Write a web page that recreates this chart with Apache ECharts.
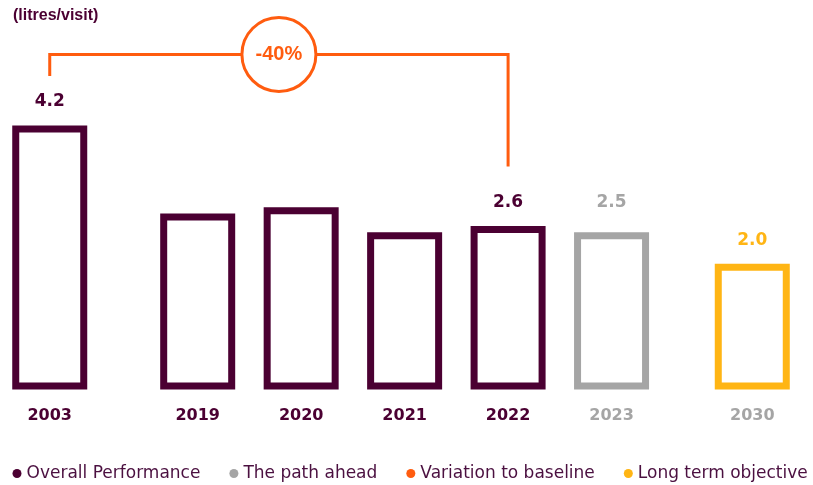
<!DOCTYPE html>
<html>
<head>
<meta charset="utf-8">
<script src="https://cdn.jsdelivr.net/npm/echarts@6/dist/echarts.min.js"></script>
<style>
    html, body { margin: 0; padding: 0; background: #fff; }
    #chart { width: 813px; height: 485px; }
</style>
</head>
<body>
<div id="chart"></div>
<script>
    // data
    var years = ['2003', '2019', '2020', '2021', '2022', '2023', '2030'];
    var values = [4.2, 2.8, 2.9, 2.5, 2.6, 2.5, 2.0];
    var groups = ['overall', 'overall', 'overall', 'overall', 'overall', 'path', 'objective'];
    var labelled = ['2003', '2022', '2023', '2030'];
    var variationText = '-40%';
    var unitText = '(litres/visit)';

    var PURPLE = '#4b0032';
    var GREY = '#a5a5a5';
    var ORANGE = '#ff5c0f';
    var YELLOW = '#ffb514';

    // layout: where each year sits along x, in bar steps (gaps before 2019 and 2030 are wider)
    var slotOf = [0, 1.43, 2.43, 3.43, 4.43, 5.43, 6.79];
    var labelDistance = { '2003': 15, '2022': 15, '2023': 21, '2030': 15 };

    var seriesDefs = [
        { key: 'overall', name: 'Overall Performance', color: PURPLE },
        { key: 'path', name: 'The path ahead', color: GREY },
        { key: 'objective', name: 'Long term objective', color: YELLOW }
    ];

    function yearAt(v) {
        for (var k = 0; k < slotOf.length; k++) {
            if (Math.abs(slotOf[k] - v) < 1e-6) return k;
        }
        return -1;
    }

    function barSeries(def) {
        var data = years.map(function (y, k) {
            if (groups[k] !== def.key) return [slotOf[k], null];
            return {
                value: [slotOf[k], values[k]],
                label: { show: labelled.indexOf(y) >= 0, distance: labelDistance[y] || 15 }
            };
        });
        return {
            name: def.name,
            type: 'bar',
            stack: 'bars',   // one stack so every series keeps the full bar width
            barWidth: 75,
            data: data,
            itemStyle: { color: '#fff', borderColor: def.color, borderWidth: 7 },
            label: {
                position: 'top',
                color: def.color,
                fontFamily: 'DejaVu Sans',
                fontWeight: 'bold',
                fontSize: 17,
                formatter: function (p) { return p.value[1].toFixed(1); }
            },
            emphasis: { disabled: true },
            silent: true
        };
    }

    var series = seriesDefs.map(barSeries);
    // only here so the legend gets its orange entry; the bracket is drawn below
    series.push({ name: 'Variation to baseline', type: 'line', data: [], itemStyle: { color: ORANGE } });

    var chart = echarts.init(document.getElementById('chart'));
    chart.setOption({
        animation: false,
        title: {
            text: unitText,
            left: 8,
            top: 3,
            textStyle: { color: PURPLE, fontFamily: 'Liberation Sans', fontWeight: 'bold', fontSize: 16 }
        },
        legend: {
            left: 7.5,
            top: 460,
            width: 805,
            icon: 'circle',
            itemWidth: 9,
            itemHeight: 9,
            itemGap: 29,
            textStyle: { color: '#4b1040', fontFamily: 'DejaVu Sans', fontSize: 17 },
            data: [
                { name: 'Overall Performance', itemStyle: { color: PURPLE, borderWidth: 0 } },
                { name: 'The path ahead', itemStyle: { color: GREY, borderWidth: 0 } },
                { name: 'Variation to baseline', itemStyle: { color: ORANGE, borderWidth: 0 } },
                { name: 'Long term objective', itemStyle: { color: YELLOW, borderWidth: 0 } }
            ]
        },
        grid: { left: 18.7, right: 39, top: 12.3, bottom: 95.5, containLabel: false },
        xAxis: {
            type: 'value',
            min: -0.3,
            max: 7,
            splitLine: { show: false },
            axisLine: { show: false },
            axisTick: { show: false },
            axisLabel: {
                customValues: slotOf,
                margin: 18,
                fontFamily: 'DejaVu Sans',
                fontWeight: 'bold',
                fontSize: 16,
                formatter: function (v) {
                    var k = yearAt(v);
                    return k >= 0 ? years[k] : '';
                },
                color: function (v) {
                    var k = yearAt(v);
                    return k >= 0 && groups[k] === 'overall' ? PURPLE : GREY;
                }
            }
        },
        yAxis: { type: 'value', min: 0, max: 6, show: false, splitLine: { show: false } },
        series: series
    });

    // -40% bracket from the 2003 bar to the 2022 bar
    var first = chart.convertToPixel({ xAxisIndex: 0, yAxisIndex: 0 }, [slotOf[0], values[0]]);
    var k22 = years.indexOf('2022');
    var last = chart.convertToPixel({ xAxisIndex: 0, yAxisIndex: 0 }, [slotOf[k22], values[k22]]);
    var topY = first[1] - 71;
    var midX = (first[0] + last[0]) / 2;
    chart.setOption({
        graphic: [
            {
                type: 'polyline',
                shape: { points: [[first[0], first[1] - 49.5], [first[0], topY], [last[0], topY], [last[0], last[1] - 59.5]] },
                style: { stroke: ORANGE, lineWidth: 3, fill: null }
            },
            {
                type: 'circle',
                shape: { cx: midX, cy: topY, r: 37 },
                style: { fill: '#fff', stroke: ORANGE, lineWidth: 3 }
            },
            {
                type: 'text',
                x: midX,
                y: topY,
                style: {
                    text: variationText,
                    fill: ORANGE,
                    font: 'bold 20px "Liberation Sans"',
                    align: 'center',
                    verticalAlign: 'middle'
                }
            }
        ]
    });
</script>
</body>
</html>
